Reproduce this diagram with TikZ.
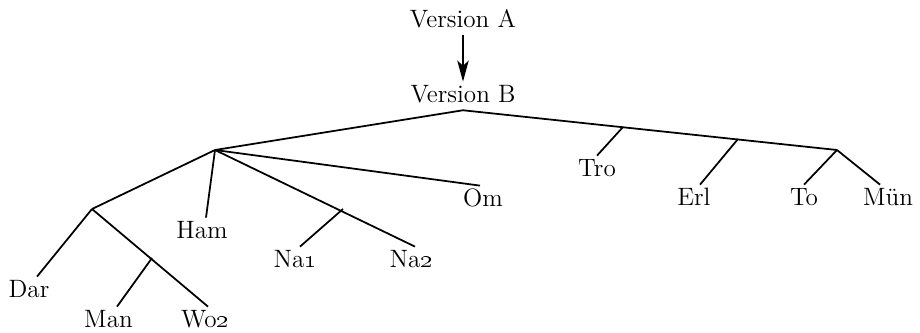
\documentclass[tikz,border=0pt]{standalone}
\usepackage{amsmath,amssymb}
\usepackage{tikz}
\usetikzlibrary{arrows.meta}
\tikzstyle{arrow} = [line width=1pt,-{Stealth[length=12pt,width=6.5pt,inset=3pt]}]
\tikzstyle{edge}  = [line width=1pt]
\tikzstyle{leaf}  = [black,anchor=base,inner xsep=1pt,inner ysep=4.5pt,text height=0.69em,text depth=0pt]

\begin{document}
\begin{tikzpicture}[x=0.02cm,y=-0.02cm,font=\fontsize{14.3}{17}\selectfont]
           \useasboundingbox (0,0) rectangle (920,332);
           \node[leaf](va)at(463,27){Version A};
           \node[leaf](vb)at(463,102){Version B};
           \draw[arrow](va)--(vb);
           % branch points
           \coordinate(r)at(vb.south);
           \coordinate(p)at(215,150);
           \coordinate(q)at(92,209);
           \coordinate(s)at(152,258);
           \coordinate(t)at(343,209);
           \coordinate(u)at(623,127);
           \coordinate(v)at(738,139);
           \coordinate(w)at(837,150);
           % witnesses
           \node[leaf](dar)at(29,297){Dar};
           \node[leaf](man)at(108.5,327){Man};
           \node[leaf](wo)at(205,327){Wo\oldstylenums{2}};
           \node[leaf](ham)at(202,238){Ham};
           \node[leaf](naa)at(295,267){Na\oldstylenums{1}};
           \node[leaf](nab)at(411,267){Na\oldstylenums{2}};
           \node[leaf](om)at(483,206){Om};
           \node[leaf](tro)at(597,176){Tro};
           \node[leaf](erl)at(694,205){Erl};
           \node[leaf](to)at(804,205){To};
           \node[leaf](mun)at(888,205){Mün};
           \draw[edge](r)--(p);
           \draw[edge](r)--(w);
           \draw[edge](u)--(tro.north);
           \draw[edge](v)--([xshift=0.12cm]erl.north);
           \draw[edge](w)--(to.north);
           \draw[edge](w)--([xshift=-0.16cm]mun.north);
           \draw[edge](p)--(q);
           \draw[edge](p)--([xshift=0.08cm]ham.north);
           \draw[edge](p)--([xshift=-0.06cm]om.north);
           \draw[edge](p)--([xshift=0.08cm]nab.north);
           \draw[edge](t)--([xshift=0.1cm]naa.north);
           \draw[edge](q)--([xshift=0.16cm]dar.north);
           \draw[edge](q)--([xshift=0.06cm]wo.north);
           \draw[edge](s)--([xshift=0.17cm]man.north);
       \end{tikzpicture}
\end{document}
